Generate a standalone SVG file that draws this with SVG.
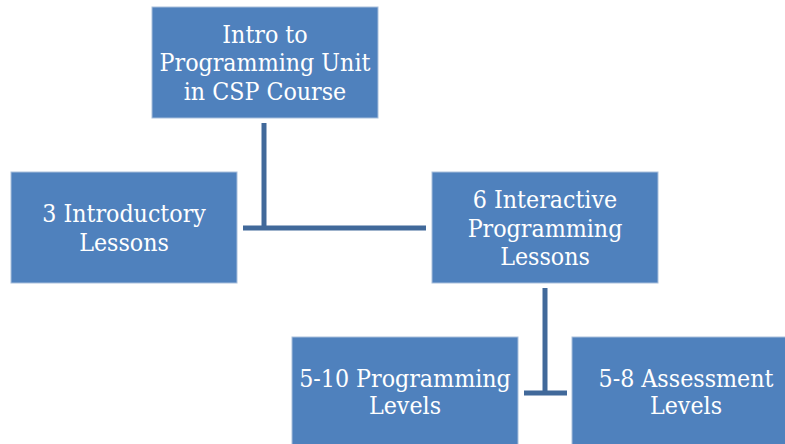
<svg xmlns="http://www.w3.org/2000/svg" width="785" height="444" viewBox="0 0 785 444">
<style>
.box{fill:#4f81bd;stroke:#a9bfdc;stroke-width:1}
.t{font-family:"DejaVu Serif Condensed","DejaVu Serif",serif;font-stretch:condensed;font-size:24.7px;fill:#ffffff;text-anchor:middle}
.c{stroke:#41699a;stroke-width:5;fill:none}
</style>
<rect width="785" height="444" fill="#ffffff"/>
<g id="connectors">
<line class="c" x1="264" y1="123" x2="264" y2="228"/>
<line class="c" x1="243" y1="228" x2="426" y2="228"/>
<line class="c" x1="545" y1="288" x2="545" y2="393"/>
<line class="c" x1="524" y1="393" x2="567" y2="393"/>
</g>
<g id="n1">
<rect class="box" x="152" y="7" width="226" height="111"/>
<text class="t" x="265" y="43">Intro to</text>
<text class="t" x="265" y="71">Programming Unit</text>
<text class="t" x="265" y="100">in CSP Course</text>
</g>
<g id="n2">
<rect class="box" x="11" y="172" width="226" height="111"/>
<text class="t" x="124" y="222">3 Introductory</text>
<text class="t" x="124" y="251">Lessons</text>
</g>
<g id="n3">
<rect class="box" x="432" y="172" width="226" height="111"/>
<text class="t" x="545" y="208">6 Interactive</text>
<text class="t" x="545" y="237">Programming</text>
<text class="t" x="545" y="265">Lessons</text>
</g>
<g id="n4">
<rect class="box" x="292" y="337" width="226" height="111"/>
<text class="t" x="405" y="387">5-10 Programming</text>
<text class="t" x="405" y="414">Levels</text>
</g>
<g id="n5">
<rect class="box" x="572" y="337" width="226" height="111"/>
<text class="t" x="686" y="387">5-8 Assessment</text>
<text class="t" x="686" y="414">Levels</text>
</g>
</svg>
